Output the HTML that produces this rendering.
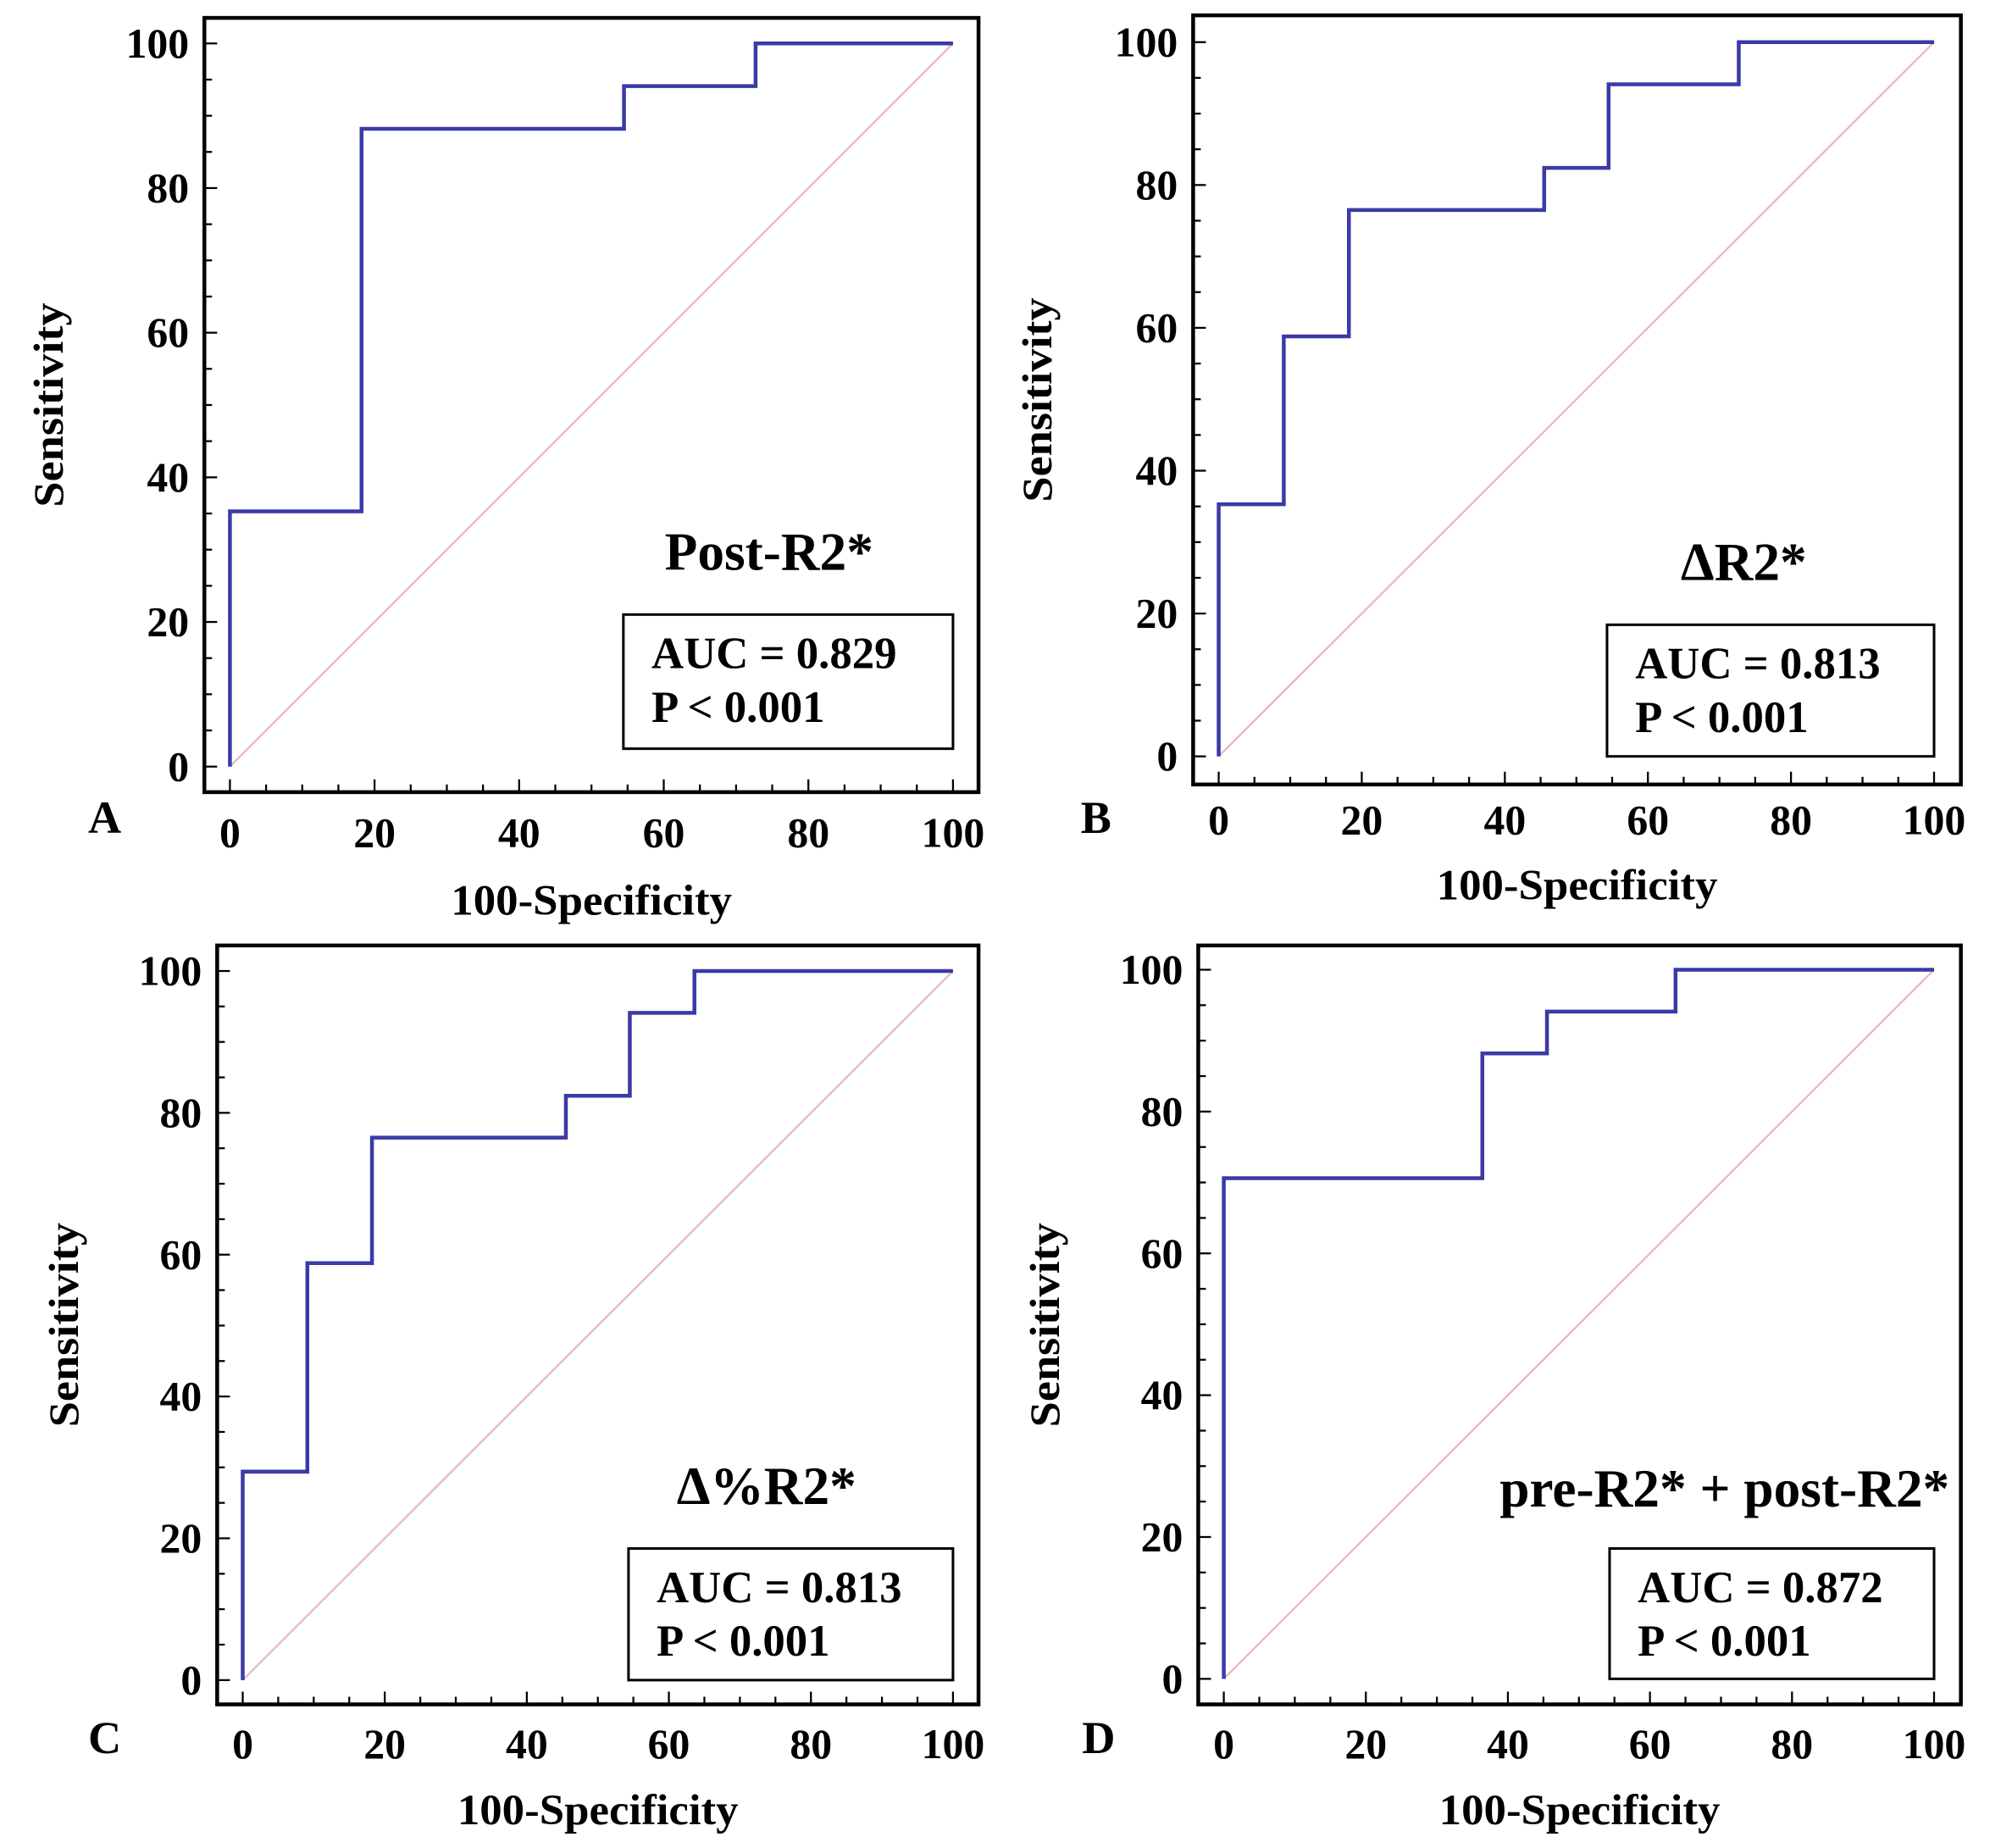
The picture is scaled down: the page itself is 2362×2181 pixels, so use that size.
<!DOCTYPE html>
<html><head><meta charset="utf-8"><style>
html,body{margin:0;padding:0;background:#fff;}
svg{display:block;}
text{font-family:"Liberation Serif",serif;font-weight:bold;fill:#000;}
</style></head><body>
<svg id="chart" width="2362" height="2181" viewBox="0 0 1566.4 1446.4" preserveAspectRatio="none" xmlns="http://www.w3.org/2000/svg"></svg>
<script>
const tickValues = [0,20,40,60,80,100];
const panelLetters = ["A","B","C","D"];
const panelTitles = ["Post-R2*","\u0394R2*","\u0394%R2*","pre-R2* + post-R2*"];
const aucValues = ["0.829","0.813","0.813","0.872"];
const pValues = ["P < 0.001","P < 0.001","P < 0.001","P < 0.001"];
const seriesAx = [0,0,18.2,18.2,54.5,54.5,72.7,72.7,100];
const seriesAy = [0,35.3,35.3,88.2,88.2,94.1,94.1,100,100];
const seriesBx = [0,0,9.1,9.1,18.2,18.2,45.5,45.5,54.5,54.5,72.7,72.7,100];
const seriesBy = [0,35.3,35.3,58.8,58.8,76.5,76.5,82.4,82.4,94.1,94.1,100,100];
const seriesCx = [0,0,9.1,9.1,18.2,18.2,45.5,45.5,54.5,54.5,63.6,63.6,100];
const seriesCy = [0,29.4,29.4,58.8,58.8,76.5,76.5,82.4,82.4,94.1,94.1,100,100];
const seriesDx = [0,0,36.4,36.4,45.5,45.5,63.6,63.6,100];
const seriesDy = [0,70.6,70.6,88.2,88.2,94.1,94.1,100,100];

const svg = document.getElementById('chart');
const NS = 'http://www.w3.org/2000/svg';
function mk(tag, attrs, parent){const e=document.createElementNS(NS,tag);for(const k in attrs)e.setAttribute(k,attrs[k]);(parent||svg).appendChild(e);return e;}

const layouts = [
 {fx0:160,fx1:766,fy0:14,fy1:620,x0:180,x1:746,y0:600,y1:34,ylx:38,lx:82,ly:640,xly:705,tly:652,title:[602,432],box:[488,481,746,586]},
 {fx0:934,fx1:1535,fy0:12,fy1:614,x0:954,x1:1514,y0:592,y1:33,ylx:812,lx:858,ly:640,xly:693,tly:642,title:[1365,440],box:[1258,489,1514,592]},
 {fx0:170,fx1:766,fy0:740,fy1:1334,x0:190,x1:746,y0:1315,y1:760,ylx:50,lx:82,ly:1360,xly:1417,tly:1365,title:[600,1163],box:[492,1212,746,1315]},
 {fx0:938,fx1:1535,fy0:740,fy1:1334,x0:958,x1:1514,y0:1314,y1:759,ylx:818,lx:860,ly:1360,xly:1417,tly:1365,title:[1350,1165],box:[1260,1212,1514,1314]}
];
const allX=[seriesAx,seriesBx,seriesCx,seriesDx], allY=[seriesAy,seriesBy,seriesCy,seriesDy];

layouts.forEach((L,i)=>{
  const g = mk('g',{});
  
  
  const sx=v=>L.x0+(L.x1-L.x0)*v/100, sy=v=>L.y0+(L.y1-L.y0)*v/100;
  const fr=mk('rect',{x:L.fx0,y:L.fy0,width:L.fx1-L.fx0,height:L.fy1-L.fy0,fill:'none',stroke:'#000','stroke-width':3},g);
  
  
  for(let v=0;v<=100;v+=5){
    const major=v%20===0, len=major?10:6;
    mk('line',{x1:sx(v),x2:sx(v),y1:L.fy1,y2:L.fy1-len,stroke:'#000','stroke-width':1.5},g);
    mk('line',{x1:L.fx0,x2:L.fx0+len,y1:sy(v),y2:sy(v),stroke:'#000','stroke-width':1.5},g);
  }
  tickValues.forEach(v=>{
    const t=mk('text',{x:sx(v),y:L.tly+11,'text-anchor':'middle','font-size':33},g);t.textContent=v;
    
    
    const u=mk('text',{x:L.fx0-12,y:sy(v)+11,'text-anchor':'end','font-size':33},g);u.textContent=v;
    
    
  });
  const xl=mk('text',{x:(L.fx0+L.fx1)/2,y:L.xly+11,'text-anchor':'middle','font-size':34,textLength:220,lengthAdjust:'spacingAndGlyphs'},g);xl.textContent='100-Specificity';
  
  
  const cy=(L.fy0+L.fy1)/2;
  const yl=mk('text',{x:L.ylx+11,y:cy,'text-anchor':'middle','font-size':33,textLength:160,lengthAdjust:'spacingAndGlyphs',transform:`rotate(-90 ${L.ylx+11} ${cy})`},g);yl.textContent='Sensitivity';
  
  
  const lt=mk('text',{x:L.lx,y:L.ly+12,'text-anchor':'middle','font-size':36},g);lt.textContent=panelLetters[i];
  
  
  const d=mk('line',{x1:sx(0),y1:sy(0),x2:sx(100),y2:sy(100),stroke:'#e8b8b8','stroke-width':1.5},g);
  
  
  const xs=allX[i], ys=allY[i];
  const pts=xs.map((x,k)=>sx(x)+','+sy(ys[k])).join(' ');
  const pl=mk('polyline',{points:pts,fill:'none',stroke:'#3a3aa8','stroke-width':3},g);
  
  
  const ti=mk('text',{x:L.title[0],y:L.title[1]+14,'text-anchor':'middle','font-size':42},g);ti.textContent=panelTitles[i];
  
  
  const b=L.box;
  const bx=mk('rect',{x:b[0],y:b[1],width:b[2]-b[0],height:b[3]-b[1],fill:'#fff',stroke:'#000','stroke-width':2},g);
  
  
  const a=mk('text',{x:b[0]+22,y:b[1]+42,'font-size':35},g);a.textContent='AUC = '+aucValues[i];
  
  
  const p=mk('text',{x:b[0]+22,y:b[1]+84,'font-size':35},g);p.textContent=pValues[i];
  
  
});
</script>
</body></html>
